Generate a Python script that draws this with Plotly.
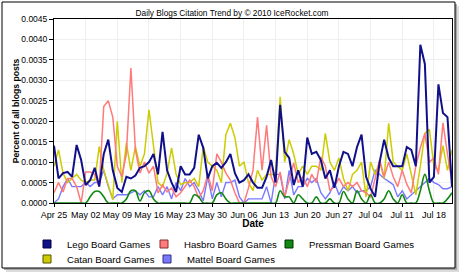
import pandas as pd
import plotly.graph_objects as go

start_date = "2010-04-25"
n_days = 89
dates = pd.date_range(start_date, periods=n_days, freq="D")

lego = [0.0014, 0.0006, 0.00073, 0.00076, 0.00064, 0.00142, 0.00105, 0.00044, 0.00056, 0.00086,
        0.0004, 0.0012, 0.00155, 0.0008, 0.00037, 0.00027, 0.00064, 0.0006, 0.00067, 0.00086,
        0.0009, 0.001, 0.0012, 0.0007, 0.00174, 0.0008, 0.0005, 0.00027, 0.0009, 0.0007,
        0.0007, 0.00086, 0.00167, 0.00135, 0.0006, 0.0009, 0.00098, 0.00086, 0.001, 0.0012,
        0.00073, 0.0005, 0.00056, 0.0007, 0.0005, 0.00037, 0.00037, 0.00064, 0.00105, 0.0005,
        0.0024, 0.00125, 0.0011, 0.00044, 0.0008, 0.0004, 0.0016, 0.0012, 0.00125, 0.00105,
        0.0006, 0.0008, 0.00037, 0.0009, 0.00125, 0.0012, 0.0009, 0.00137, 0.00167, 0.00064,
        0.00035, 0.00015, 0.001, 0.00155, 0.0011, 0.0009, 0.0009, 0.0009, 0.00137, 0.0013,
        0.0009, 0.00387, 0.0034, 0.0005, 0.00064, 0.0029, 0.0022, 0.0021, 0.0004]

hasbro = [0.00025, 0.0005, 0.00027, 0.0006, 0.0006, 0.0004, 0.0, 0.00076, 0.00076, 0.0007,
          0.0004, 0.00236, 0.0025, 0.0021, 0.0009, 0.00064, 0.0012, 0.0033, 0.0013, 0.00073,
          0.001, 0.00073, 0.0009, 0.00025, 0.00044, 0.00027, 0.00037, 0.00015, 0.00025, 0.0004,
          0.00056, 0.0004, 0.00012, 0.0003, 0.0007, 0.0003, 0.0012, 0.001, 0.00073, 0.00056,
          0.00025, 0.0, 0.0, 0.00037, 0.0008, 0.0021, 0.0008, 0.0019, 0.00064, 0.0004,
          0.00076, 0.00015, 0.00056, 0.00098, 0.0005, 0.00064, 0.0004, 0.0007, 0.0005, 0.00113,
          0.0009, 0.0003, 0.0004, 0.0006, 0.0004, 0.0005, 0.0004, 0.0005, 0.0003, 0.00025,
          0.00015, 0.0006, 0.00105, 0.00064, 0.001, 0.00064, 0.0004, 0.0008, 0.00046, 0.00025,
          0.0009, 0.00135, 0.0017, 0.001, 0.0011, 0.0007, 0.00196, 0.0012, 0.0005]

pressman = [0, 0, 0, 0, 0, 0, 0, 0, 0.00015, 0.00028,
            0.00028, 0.00015, 0, 0, 0, 0, 0.0001, 0.0003, 0.0003, 0.00005,
            0.00025, 0.0003, 0.0001, 0, 0, 0, 0, 0, 0, 0,
            0, 0.0002, 0.00015, 0, 0, 0, 0.0002, 0.00025, 0.0001, 0,
            0, 0, 0, 0, 0, 0, 0, 0, 0, 0,
            0.0003, 0.00015, 0.00015, 0, 0.0002, 0.0001, 0, 0, 0.00015, 0,
            0, 0.0001, 0, 0, 0.00028, 0.0001, 0, 0.0003, 0.0001, 0,
            0.0002, 0, 0, 0.0001, 0.0003, 0.0001, 0, 0.0002, 0, 0,
            0, 0.0003, 0.0007, 0.0003, 0, 0, 0, 0.0001, 0.00025]

catan = [0.0009, 0.0013, 0.00073, 0.0005, 0.0006, 0.0007, 0.00056, 0.0005, 0.00056, 0.00056,
         0.00138, 0.0008, 0.00044, 0.00008, 0.002, 0.0005, 0.00147, 0.0008, 0.00138, 0.0009,
         0.0012, 0.00228, 0.0014, 0.0005, 0.0004, 0.00073, 0.00135, 0.0007, 0.00045, 0.0005,
         0.0005, 0.0006, 0.0004, 0.00138, 0.001, 0.0009, 0.0008, 0.0005, 0.00167, 0.00195,
         0.0016, 0.0009, 0.001, 0.0005, 0.0003, 0.0008, 0.00056, 0.0007, 0.0007, 0.0007,
         0.0026, 0.001, 0.00155, 0.0012, 0.0007, 0.0009, 0.0007, 0.0009, 0.0009, 0.0008,
         0.0017, 0.001, 0.0008, 0.0011, 0.0006, 0.0003, 0.0007, 0.0008, 0.001, 0.00015,
         0.001, 0.0007, 0.001, 0.0006, 0.00195, 0.001, 0.0009, 0.0008, 0.0012, 0.0007,
         0.0002, 0.0009, 0.0017, 0.0018, 0.0009, 0.0008, 0.0014, 0.0008, 0.0013]

mattel = [0.0, 0.0001, 0.0004, 0.0006, 0.0004, 0.0004, 0.0004, 0.0005, 0.0004, 0.0005,
          0.0005, 0.0008, 0.0004, 0.0001, 0.0002, 0.0002, 0.0002, 0.00025, 0.0003, 0.0002,
          0.0003, 0.00015, 0.00015, 0.0004, 0.0002, 0.0004, 0.0001, 0.0005, 0.0003, 0.0006,
          0.0004, 0.0005, 0.0003, 0.00005, 0.00064, 0.0001, 0.0005, 0.00015, 0.0005, 0.0005,
          0.00056, 0.00015, 0.0, 0.0001, 0.0001, 0.0001, 0.0001, 0.0004, 0.0, 0.0007,
          0.0007, 0.0001, 0.0008, 0.0002, 0.0004, 0.0004, 0.0006, 0.0005, 0.0006, 0.00025,
          0.0001, 0.00025, 0.0005, 0.0002, 0.0004, 0.0003, 0.0004, 0.00025, 0.0003, 0.0003,
          0.0004, 0.0008, 0.0007, 0.0006, 0.00053, 0.00045, 0.00015, 0.0003, 0.0001, 0.0002,
          0.0003, 0.0004, 0.0005, 0.0006, 0.0005, 0.00045, 0.00035, 0.00035, 0.0004]

series_names = ["Lego Board Games", "Hasbro Board Games", "Pressman Board Games",
                "Catan Board Games", "Mattel Board Games"]
series_values = [lego, hasbro, pressman, catan, mattel]
colors = ["#10108a", "#ff7a7a", "#118811", "#cccc00", "#7878ff"]
edge_colors = ["#000040", "#803030", "#003300", "#555500", "#303080"]
widths = [2.0, 1.5, 1.6, 1.5, 1.4]
shapes_line = ["linear", "linear", "spline", "linear", "linear"]

W, H = 460, 276
L, R, T, B = 54, 452, 19, 203

def xp(px):
    return (px - L) / (R - L)

def yp(py):
    return (B - py) / (B - T)

fig = go.Figure()

draw_order = [4, 3, 1, 2, 0]
for i in draw_order:
    fig.add_trace(go.Scatter(
        x=dates, y=series_values[i], mode="lines", name=series_names[i],
        line=dict(color=colors[i], width=widths[i], shape=shapes_line[i], smoothing=1.0),
        showlegend=False, hoverinfo="skip"))

legend_assign = ["legend", "legend", "legend", "legend2", "legend2"]
legend_widths = [72, 80, 106, 75, 95]
for i in range(5):
    fig.add_trace(go.Scatter(
        x=[None], y=[None], mode="markers", name=series_names[i],
        marker=dict(symbol="square", size=8, color=colors[i],
                    line=dict(color=edge_colors[i], width=1)),
        legend=legend_assign[i], legendwidth=legend_widths[i], showlegend=True))

font_family = "Liberation Sans, Arial, sans-serif"

shapes = [
    dict(type="rect", xref="paper", yref="paper", layer="below",
         x0=xp(6), x1=xp(459), y0=yp(6), y1=yp(272),
         fillcolor="#dcdcdc", line=dict(width=0)),
    dict(type="rect", xref="paper", yref="paper", layer="below",
         x0=xp(4), x1=xp(457), y0=yp(4), y1=yp(270),
         fillcolor="#a8a8a8", line=dict(width=0)),
    dict(type="rect", xref="paper", yref="paper", layer="below",
         x0=xp(2), x1=xp(455), y0=yp(2), y1=yp(268),
         fillcolor="white", line=dict(color="black", width=1)),
]

fig.update_layout(
    width=W, height=H,
    margin=dict(l=L, r=W - R, t=T, b=H - B, autoexpand=False),
    paper_bgcolor="white", plot_bgcolor="rgba(0,0,0,0)",
    font=dict(family=font_family, size=9, color="black"),
    title=dict(text="Daily Blogs Citation Trend by © 2010 IceRocket.com",
               x=232 / W, xref="container", xanchor="center",
               y=1 - 13.5 / H, yref="container", yanchor="middle",
               font=dict(size=8.3, family=font_family, color="black")),
    shapes=shapes,
    xaxis=dict(
        range=["2010-04-25", "2010-07-22"],
        tick0="2010-04-25", dtick=7 * 86400000, tickformat="%b %d",
        showline=True, linecolor="black", linewidth=1, mirror=True,
        ticks="outside", ticklen=3, tickcolor="black",
        showgrid=True, gridcolor="#efefef", gridwidth=1,
        tickfont=dict(size=9, family=font_family),
        title=dict(text="Date", standoff=15,
                   font=dict(size=10, family=font_family, weight="bold")),
        zeroline=False),
    yaxis=dict(
        range=[0, 0.0045], dtick=0.0005, tickformat=".4f",
        showline=True, linecolor="black", linewidth=1, mirror=True,
        ticks="outside", ticklen=4, tickcolor="black",
        showgrid=True, gridcolor="#efefef", gridwidth=1,
        tickfont=dict(size=8.5, family=font_family),
        title=dict(text="Percent of all blogs posts", standoff=0,
                   font=dict(size=8.6, family=font_family, weight="bold")),
        zeroline=False),
    legend=dict(orientation="h", xref="container", yref="container",
                x=27 / W, xanchor="left", y=1 - 244 / H, yanchor="middle",
                font=dict(size=9.6, family=font_family), bgcolor="rgba(0,0,0,0)",
                borderwidth=0, itemwidth=30, tracegroupgap=0),
    legend2=dict(orientation="h", xref="container", yref="container",
                 x=27 / W, xanchor="left", y=1 - 259 / H, yanchor="middle",
                 font=dict(size=9.6, family=font_family), bgcolor="rgba(0,0,0,0)",
                 borderwidth=0, itemwidth=30, tracegroupgap=0),
)

fig.write_html("out.html")
